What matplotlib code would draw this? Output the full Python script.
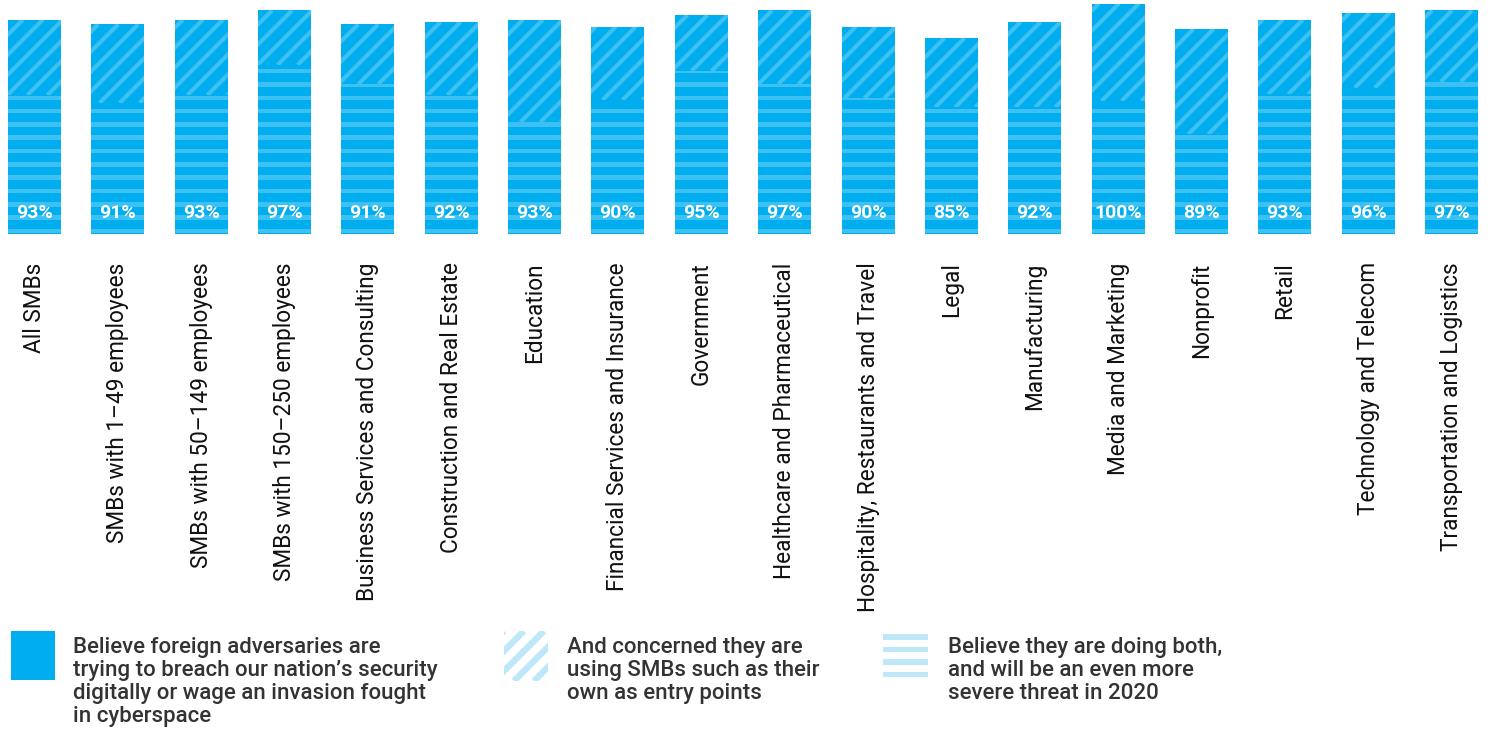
import matplotlib.pyplot as plt
from matplotlib.patches import Rectangle
from matplotlib.collections import LineCollection
import numpy as np

plt.rcParams['font.family'] = ['Roboto', 'DejaVu Sans']

categories = ["All SMBs", "SMBs with 1\u201349 employees", "SMBs with 50\u2013149 employees",
              "SMBs with 150\u2013250 employees", "Business Services and Consulting",
              "Construction and Real Estate", "Education", "Financial Services and Insurance",
              "Government", "Healthcare and Pharmaceutical",
              "Hospitality, Restaurants and Travel", "Legal", "Manufacturing",
              "Media and Marketing", "Nonprofit", "Retail", "Technology and Telecom",
              "Transportation and Logistics"]
believe = [93, 91, 93, 97, 91, 92, 93, 90, 95, 97, 90, 85, 92, 100, 89, 93, 96, 97]
both = [60.4, 57.0, 60.4, 73.4, 65.0, 60.4, 48.7, 58.2, 70.8, 65.0,
        59.0, 55.1, 55.1, 57.8, 43.4, 60.7, 63.5, 66.1]

legend_texts = ["Believe foreign adversaries are\ntrying to breach our nation\u2019s security\n"
                "digitally or wage an invasion fought\nin cyberspace",
                "And concerned they are\nusing SMBs such as their\nown as entry points",
                "Believe they are doing both,\nand will be an even more\nsevere threat in 2020"]

BLUE = "#00adee"
STRIPE = "#3dc0f2"
PALE = "#bee8f9"
TEXT = "#333333"

W, H = 1488, 729
fig = plt.figure(figsize=(W / 100, H / 100), dpi=100)

# main axes: bars span x=8..1478 px, baseline at 234.5 px from top, 100% = 231 px
ax_left, ax_w = 8, 1470
ax_top, ax_h = 3.5, 231
ax = fig.add_axes([ax_left / W, (H - ax_top - ax_h) / H, ax_w / W, ax_h / H])

n = len(categories)
x = np.arange(n)
bw = 0.636
xmin, xmax = -bw / 2, n - 1 + bw / 2
ax.set_xlim(xmin, xmax)
ax.set_ylim(0, 100)
xunit = ax_w / (xmax - xmin)   # px per x unit
yunit = ax_h / 100.0           # px per percent

ax.bar(x, believe, width=bw, color=BLUE, zorder=1)

# horizontal stripes on the "both" part
period, thick, phase = 13.33 / yunit, 4.5 / yunit, 1.2 / yunit
for i in range(n):
    y0 = phase
    while y0 < both[i]:
        ax.bar(i, min(thick, both[i] - y0), bottom=y0, width=bw, color=STRIPE,
               linewidth=0, zorder=2)
        y0 += period

# diagonal hatch above the "both" part
for i in range(n):
    rect = Rectangle((i - bw / 2, both[i]), bw, believe[i] - both[i],
                     facecolor="none", edgecolor="none")
    ax.add_patch(rect)
    px0 = (i - bw / 2 - xmin) * xunit
    px1 = (i + bw / 2 - xmin) * xunit
    py0, py1 = both[i] * yunit, believe[i] * yunit
    segs = []
    c = np.floor((px0 - py1) / 20.0) * 20.0
    while c < px1 - py0:
        segs.append([((c + py0) / xunit + xmin, py0 / yunit),
                     ((c + py1) / xunit + xmin, py1 / yunit)])
        c += 20.0
    lc = LineCollection(segs, colors=STRIPE, linewidths=3.0, zorder=3)
    ax.add_collection(lc)
    lc.set_clip_path(rect)

for i, v in enumerate(believe):
    ax.text(i, 9.4, f"{v}%", ha="center", va="center", color="white",
            fontsize=14, fontweight="bold", zorder=4)

ax.set_xticks(x, categories, rotation=90, fontsize=16.3, color="#111111")
ax.tick_params(axis="x", length=0, pad=20)
ax.set_yticks([])
for s in ax.spines.values():
    s.set_visible(False)

# legend drawn in pixel coordinates
lg = fig.add_axes([0, 0, 1, 1])
lg.set_xlim(0, W)
lg.set_ylim(H, 0)
lg.set_axis_off()

lg.add_patch(Rectangle((11, 631), 44, 49, facecolor=BLUE, edgecolor="none"))

box = Rectangle((504, 631), 44, 50, facecolor="none", edgecolor="none")
lg.add_patch(box)
segs = [[(c, 681), (c + 50, 631)] for c in np.arange(454, 560, 20)]
lc = LineCollection(segs, colors=PALE, linewidths=4.6)
lg.add_collection(lc)
lc.set_clip_path(box)

for yy in [634, 646.5, 659, 671.5]:
    lg.add_patch(Rectangle((883, yy), 45, 5.5, facecolor=PALE, edgecolor="none"))

for tx, txt in zip([73, 567, 948], legend_texts):
    lg.text(tx, 636.5, txt, ha="left", va="top", fontsize=16, color=TEXT,
            fontweight="medium", linespacing=1.13)

fig.savefig("out.png", dpi=100)
